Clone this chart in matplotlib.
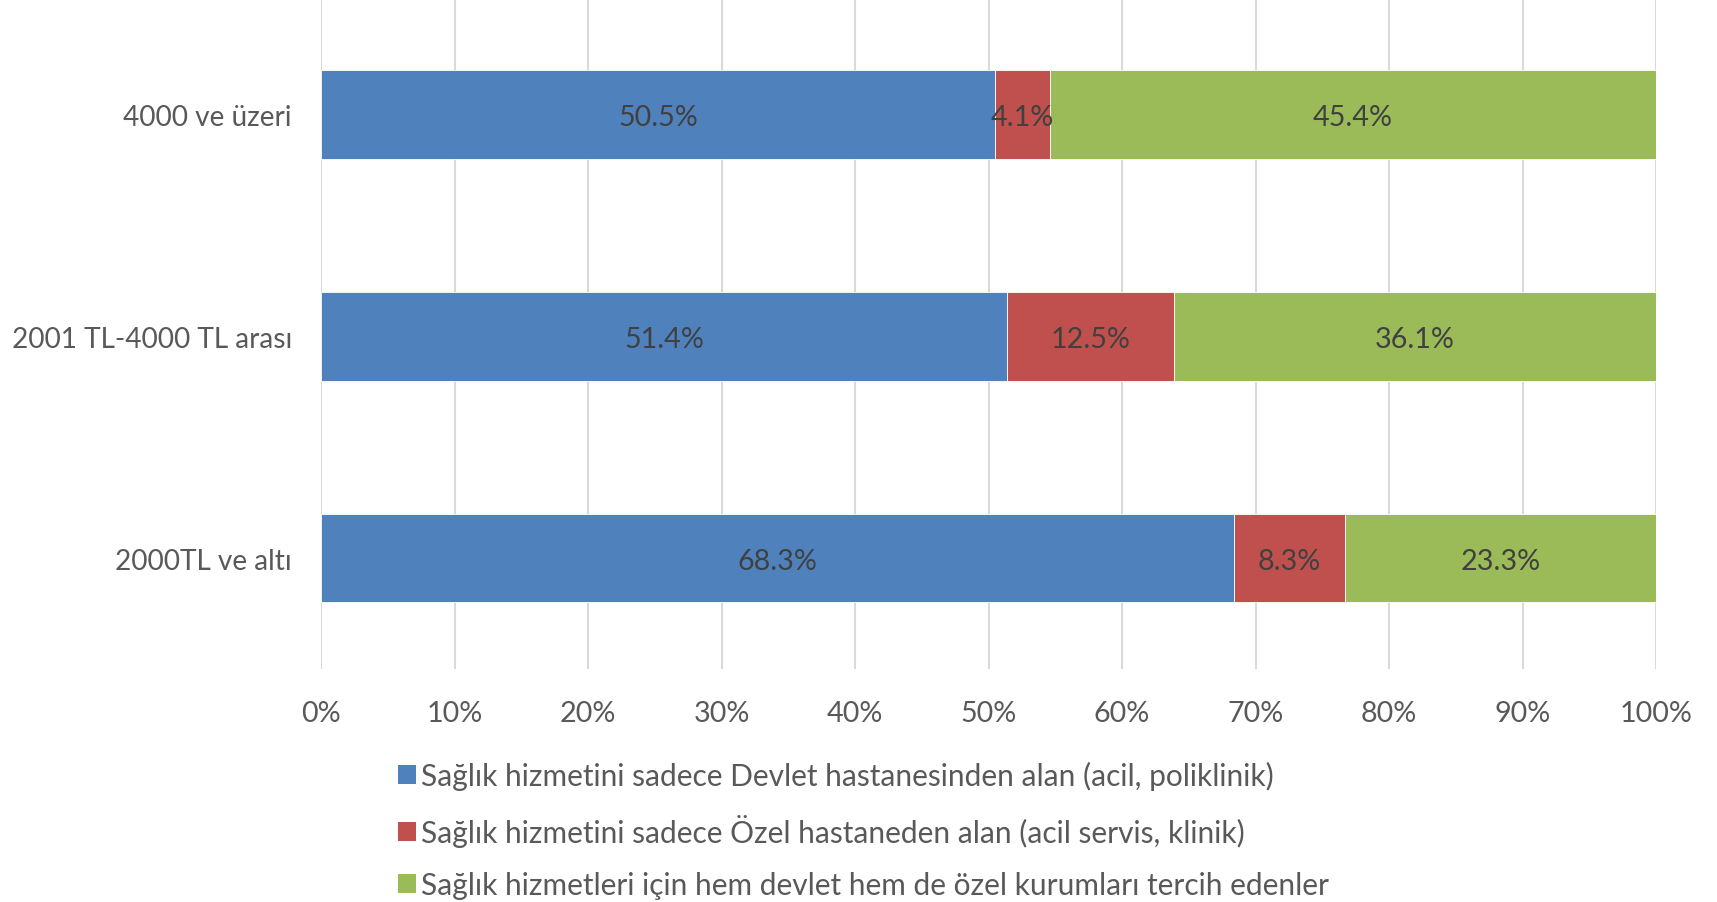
import matplotlib
matplotlib.use("Agg")
import matplotlib.pyplot as plt
from matplotlib.patches import Patch
import numpy as np

plt.rcParams['font.family'] = ['Lato', 'DejaVu Sans']

categories = ["2000TL ve altı", "2001 TL-4000 TL arası", "4000 ve üzeri"]
devlet = [68.3, 51.4, 50.5]
ozel = [8.3, 12.5, 4.1]
hem = [23.3, 36.1, 45.4]
series_names = [
    "Sağlık hizmetini sadece Devlet hastanesinden alan (acil, poliklinik)",
    "Sağlık hizmetini sadece Özel hastaneden alan (acil servis, klinik)",
    "Sağlık hizmetleri için hem devlet hem de özel kurumları tercih edenler",
]
colors = ["#4F81BD", "#C0504D", "#9BBB59"]
xticks = [0, 10, 20, 30, 40, 50, 60, 70, 80, 90, 100]

fig = plt.figure(figsize=(17.17, 9.03), dpi=100)
ax = fig.add_axes([0.187, 0.258, 0.7775, 0.742])

data = np.array([devlet, ozel, hem], dtype=float)
totals = data.sum(axis=0)
norm = data / totals * 100
y = np.arange(len(categories))
left = np.zeros(len(categories))
for i in range(3):
    bars = ax.barh(y, norm[i], left=left, height=0.4, color=colors[i],
                   edgecolor="white", linewidth=0.6, zorder=3)
    for j, b in enumerate(bars):
        cx = left[j] + norm[i][j] / 2
        ax.text(cx, y[j], f"{data[i][j]:.1f}%", ha="center", va="center_baseline",
                fontsize=20.7, color="#404040", zorder=4)
    left += norm[i]

ax.set_xlim(0, 100)
ax.set_ylim(-0.5, 2.52)
ax.set_xticks(xticks)
ax.set_xticklabels([f"{t}%" for t in xticks], fontsize=20.7, color="#595959")
ax.set_yticks(y)
ax.set_yticklabels(categories, fontsize=20.2, color="#595959")
ax.tick_params(axis='both', length=0)
ax.tick_params(axis='x', pad=22.5)
ax.tick_params(axis='y', pad=21)
ax.grid(axis='x', color="#D9D9D9", linewidth=1.5, zorder=0)
for s in ax.spines.values():
    s.set_visible(False)

handles = [Patch(facecolor=c, edgecolor='none') for c in colors]
fig.legend(handles, series_names, loc="upper left", bbox_to_anchor=(0.232, 0.1565),
           frameon=False, fontsize=21.5, labelcolor="#595959",
           handlelength=0.6, handleheight=0.6, handletextpad=0.15,
           labelspacing=0.8, borderaxespad=0, borderpad=0)

fig.savefig("out.png", dpi=100)
